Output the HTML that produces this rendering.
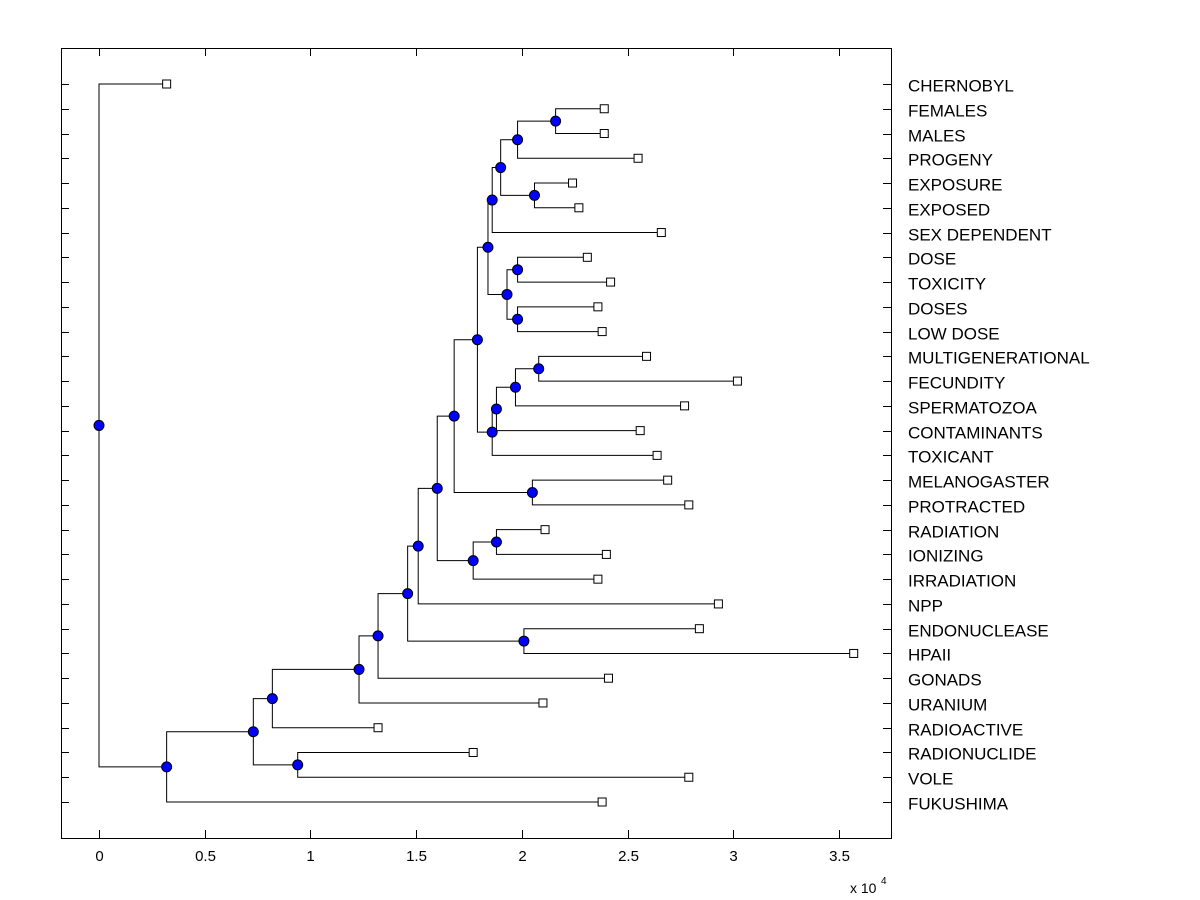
<!DOCTYPE html>
<html><head><meta charset="utf-8"><style>
html,body{margin:0;padding:0;background:#fff;}
svg{display:block;font-family:"Liberation Sans",Arial,sans-serif;}
</style></head><body>
<svg id="chart" width="1200" height="900" xmlns="http://www.w3.org/2000/svg"></svg>
<script>
const leafLabels = ["CHERNOBYL","FEMALES","MALES","PROGENY","EXPOSURE","EXPOSED","SEX DEPENDENT","DOSE","TOXICITY","DOSES","LOW DOSE","MULTIGENERATIONAL","FECUNDITY","SPERMATOZOA","CONTAMINANTS","TOXICANT","MELANOGASTER","PROTRACTED","RADIATION","IONIZING","IRRADIATION","NPP","ENDONUCLEASE","HPAII","GONADS","URANIUM","RADIOACTIVE","RADIONUCLIDE","VOLE","FUKUSHIMA"];
const leafValues = [0.32,2.39,2.39,2.55,2.24,2.27,2.66,2.31,2.42,2.36,2.38,2.59,3.02,2.77,2.56,2.64,2.69,2.79,2.11,2.40,2.36,2.93,2.84,3.57,2.41,2.10,1.32,1.77,2.79,2.38];
const mergeLeft  = [1,30,4,31,33,7,9,35,34,11,39,40,41,38,16,43,18,46,45,48,22,49,51,52,53,27,54,56,0];
const mergeRight = [2,3,5,32,6,8,10,36,37,12,13,14,15,42,17,44,19,20,47,21,23,50,24,25,26,28,55,29,57];
const mergeHeights = [2.16,1.98,2.06,1.90,1.86,1.98,1.98,1.93,1.84,2.08,1.97,1.88,1.86,1.79,2.05,1.68,1.88,1.77,1.60,1.51,2.01,1.46,1.32,1.23,0.82,0.94,0.73,0.32,0];
const xTicks = [0,0.5,1,1.5,2,2.5,3,3.5];
const xTickLabels = ["0","0.5","1","1.5","2","2.5","3","3.5"];

const NS="http://www.w3.org/2000/svg";
const svg=document.getElementById('chart');
const L=61,R=891,T=48,B=838;
const xs=v=>99+v*211.4;
const ys=i=>84+i*(802-84)/(leafLabels.length-1);
function mk(tag,attrs,parent){const e=document.createElementNS(NS,tag);for(const k in attrs)e.setAttribute(k,attrs[k]);(parent||svg).appendChild(e);return e;}

const frame=mk('rect',{x:L+0.5,y:T+0.5,width:R-L,height:B-T,fill:'none',stroke:'#000','stroke-width':1});



const xg=mk('g',{});


xTicks.forEach((t,i)=>{
  const x=Math.round(xs(t))+0.5;
  mk('line',{x1:x,y1:B,x2:x,y2:B-8,stroke:'#000'},xg);
  mk('line',{x1:x,y1:T,x2:x,y2:T+8,stroke:'#000'},xg);
  const tx=mk('text',{x:x,y:861,'text-anchor':'middle','font-size':15},xg);
  tx.textContent=xTickLabels[i];
  
  
});
const ex=mk('text',{x:850,y:893,'font-size':14});
ex.textContent='x 10';


const ex2=mk('text',{x:881,y:884,'font-size':10});
ex2.textContent='4';



const px=[],py=[];
leafValues.forEach((v,i)=>{px[i]=xs(v);py[i]=ys(i);});
const n=leafLabels.length;
const lines=mk('g',{stroke:'#000','stroke-width':1,fill:'none'});


for(let k=0;k<mergeHeights.length;k++){
  const id=n+k,a=mergeLeft[k],b=mergeRight[k];
  px[id]=xs(mergeHeights[k]);py[id]=(py[a]+py[b])/2;
  const x=px[id];
  mk('path',{d:`M${px[a]},${py[a]}H${x}V${py[b]}H${px[b]}`},lines);
}
leafLabels.forEach((lab,i)=>{
  const y=Math.round(ys(i))+0.5;
  mk('line',{x1:L,y1:y,x2:L+8,y2:y,stroke:'#000'});
  mk('line',{x1:R,y1:y,x2:R-8,y2:y,stroke:'#000'});
  const t=mk('text',{x:908,y:y+7,'font-size':17});
  t.textContent=lab;
  
  
  const s=mk('rect',{x:px[i]-4,y:py[i]-4,width:8,height:8,fill:'#fff',stroke:'#000'});
  
  
});
for(let k=0;k<mergeHeights.length;k++){
  const id=n+k;
  const c=mk('circle',{cx:px[id],cy:py[id],r:5,fill:'#0000ff',stroke:'#000','stroke-width':1});
  
  
}
</script>
</body></html>
